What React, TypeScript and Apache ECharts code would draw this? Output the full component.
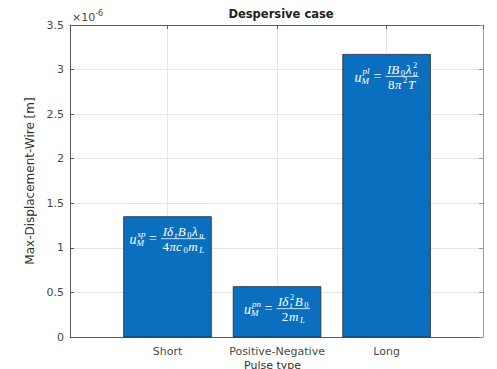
import React, { useEffect, useRef } from "react";
import * as echarts from "echarts";

// ---- data ----
const categories = ["Short", "Positive-Negative", "Long"];
const positions = [1, 2, 3];
const values = [1.35e-6, 0.565e-6, 3.17e-6];
const yMin = 0;
const yMax = 3.5e-6;
const yStep = 0.5e-6;
const xMin = 0.11;
const xMax = 3.88;
const titleText = "Despersive case";
const yName = "Max-Displacement-Wire [m]";
const xName = "Pulse type";

// formula content per bar
type Tok = { s: string; m: "n" | "b" | "p" | "pb"; b?: string; up?: boolean };
const lhsSup = ["sp", "pn", "pl"];
const numerators: Tok[][] = [
  [{ s: "Iδ", m: "n" }, { s: "t", m: "b" }, { s: "B", m: "n" }, { s: "0", m: "b", up: true }, { s: "λ", m: "n" }, { s: "u", m: "b" }],
  [{ s: "Iδ", m: "n" }, { s: "2", b: "t", m: "pb", up: true }, { s: "B", m: "n" }, { s: "0", m: "b", up: true }],
  [{ s: "IB", m: "n" }, { s: "0", m: "b", up: true }, { s: "λ", m: "n" }, { s: "2", b: "u", m: "pb", up: true }],
];
const denominators: Tok[][] = [
  [{ s: "4", m: "n", up: true }, { s: "πc", m: "n" }, { s: "0", m: "b", up: true }, { s: "m", m: "n" }, { s: "L", m: "b" }],
  [{ s: "2", m: "n", up: true }, { s: "m", m: "n" }, { s: "L", m: "b" }],
  [{ s: "8", m: "n", up: true }, { s: "π", m: "n" }, { s: "2", m: "p", up: true }, { s: "T", m: "n" }],
];

const SERIF = "Liberation Serif";
const SANS = "DejaVu Sans";

let mctx: CanvasRenderingContext2D | null = null;
function tw(s: string, size: number, italic: boolean) {
  if (!mctx) mctx = document.createElement("canvas").getContext("2d");
  if (!mctx) return s.length * size * 0.5;
  mctx.font = `${italic ? "italic " : ""}${size}px "${SERIF}"`;
  return mctx.measureText(s).width;
}

const MAIN = 13;
const SCR = 8.5;
const SP = 0.6;

function txt(s: string, x: number, y: number, size: number, italic: boolean, align = "left") {
  return {
    type: "text",
    style: {
      text: s,
      x,
      y,
      fill: "#ffffff",
      fontSize: size,
      fontFamily: SERIF,
      fontStyle: italic ? "italic" : "normal",
      align,
      verticalAlign: "middle",
    },
    silent: true,
  };
}

function layoutTokens(toks: Tok[]) {
  let x = 0;
  const items: any[] = [];
  toks.forEach((t) => {
    const it = !t.up;
    if (t.m === "n") {
      items.push({ s: t.s, x, dy: 0, size: MAIN, it });
      x += tw(t.s, MAIN, it) + (it ? 1 : 0) + SP;
    } else if (t.m === "b") {
      items.push({ s: t.s, x, dy: 3.5, size: SCR, it });
      x += tw(t.s, SCR, it) + SP;
    } else if (t.m === "p") {
      items.push({ s: t.s, x, dy: -4, size: SCR, it });
      x += tw(t.s, SCR, it) + SP;
    } else {
      items.push({ s: t.s, x, dy: -4.5, size: SCR, it: false });
      items.push({ s: t.b || "", x, dy: 3.5, size: SCR, it: true });
      x += Math.max(tw(t.s, SCR, false), tw(t.b || "", SCR, true)) + SP;
    }
  });
  return { items, width: x - SP };
}

function formulaChildren(idx: number, cx: number, cy: number) {
  const uw = tw("u", 14, true) + 0.5;
  const sw = Math.max(tw(lhsSup[idx], 9, true), tw("M", 9, true));
  const ew = tw("=", 14, false);
  const num = layoutTokens(numerators[idx]);
  const den = layoutTokens(denominators[idx]);
  const F = Math.max(num.width, den.width) + 3;
  const gap = 4;
  const T = uw + sw + gap + ew + gap + F;
  const x0 = cx - T / 2;
  const ch: any[] = [];
  ch.push(txt("u", x0, cy + 1, 14, true));
  ch.push(txt(lhsSup[idx], x0 + uw + 0.5, cy - 5, 9, true));
  ch.push(txt("M", x0 + uw - 0.5, cy + 4.5, 9, true));
  const ex = x0 + uw + sw + gap;
  ch.push(txt("=", ex, cy, 14, false));
  const fx = ex + ew + gap;
  ch.push({
    type: "line",
    shape: { x1: fx, y1: cy, x2: fx + F, y2: cy },
    style: { stroke: "#ffffff", lineWidth: 0.8 },
    silent: true,
  });
  const nx = fx + (F - num.width) / 2;
  num.items.forEach((it: any) => ch.push(txt(it.s, nx + it.x, cy - 7 + it.dy, it.size, it.it)));
  const dx = fx + (F - den.width) / 2;
  den.items.forEach((it: any) => ch.push(txt(it.s, dx + it.x, cy + 8 + it.dy, it.size, it.it)));
  return ch;
}

export default function App() {
  const ref = useRef<HTMLDivElement>(null);
  useEffect(() => {
    document.body.style.margin = "0";
    if (!ref.current) return;
    const chart = echarts.init(ref.current, undefined, { renderer: "svg" });
    const axisLineColor = "#5a5a5a";
    const labelColor = "#4a4a4a";
    const option: any = {
      animation: false,
      backgroundColor: "#ffffff",
      title: {
        text: titleText,
        left: 276,
        top: 3,
        textAlign: "center",
        textStyle: { fontSize: 11.5, fontWeight: "bold", color: "#222", fontFamily: SANS },
      },
      grid: { left: 70, right: 14, top: 25, bottom: 32 },
      xAxis: [
        {
          type: "value",
          min: xMin,
          max: xMax,
          splitNumber: 4,
          axisLine: { show: true, lineStyle: { color: axisLineColor, width: 1 } },
          axisTick: { show: true, inside: true, length: 4, lineStyle: { color: axisLineColor } },
          splitLine: { show: true, lineStyle: { color: "#e6e6e6", width: 1 } },
          axisLabel: {
            color: labelColor,
            fontSize: 11,
            fontFamily: SANS,
            margin: 9,
            showMinLabel: false,
            showMaxLabel: false,
            formatter: (v: number) => {
              const i = positions.findIndex((p) => Math.abs(p - v) < 1e-6);
              return i >= 0 ? categories[i] : "";
            },
          },
          name: "",
        },
        {
          type: "value",
          position: "top",
          min: xMin,
          max: xMax,
          splitNumber: 4,
          axisLine: { show: true, onZero: false, lineStyle: { color: axisLineColor, width: 1 } },
          axisTick: { show: true, inside: true, length: 4, lineStyle: { color: axisLineColor } },
          splitLine: { show: false },
          axisLabel: { show: false },
        },
      ],
      yAxis: [
        {
          type: "value",
          min: yMin,
          max: yMax,
          interval: yStep,
          axisLine: { show: true, lineStyle: { color: axisLineColor, width: 1 } },
          axisTick: { show: true, inside: true, length: 4, lineStyle: { color: axisLineColor } },
          splitLine: { show: true, lineStyle: { color: "#e6e6e6", width: 1 } },
          axisLabel: {
            color: labelColor,
            fontSize: 11,
            fontFamily: SANS,
            margin: 6,
            formatter: (v: number) => String(+(v * 1e6).toFixed(1)),
          },
          name: yName,
          nameLocation: "middle",
          nameGap: 30,
          nameTextStyle: { color: "#333", fontSize: 12, fontFamily: SANS },
        },
        {
          type: "value",
          position: "right",
          min: yMin,
          max: yMax,
          interval: yStep,
          axisLine: { show: true, onZero: false, lineStyle: { color: "#9a9a9a", width: 1 } },
          axisTick: { show: true, inside: true, length: 4, lineStyle: { color: "#9a9a9a" } },
          splitLine: { show: false },
          axisLabel: { show: false },
        },
      ],
      graphic: [
        {
          type: "text",
          left: 72,
          top: 9,
          style: {
            text: "{a|×10}{b|-6}",
            rich: {
              a: { fontSize: 11, fontFamily: SANS, fill: labelColor, color: labelColor, verticalAlign: "bottom", lineHeight: 14 },
              b: { fontSize: 8, fontFamily: SANS, fill: labelColor, color: labelColor, verticalAlign: "top", lineHeight: 14 },
            },
          },
        },
        {
          type: "text",
          left: 244,
          top: 360,
          style: { text: xName, fontSize: 11, fontFamily: SANS, fill: "#333" },
        },
      ],
      series: [
        {
          type: "custom",
          xAxisIndex: 0,
          yAxisIndex: 0,
          data: positions.map((p, i) => [p, values[i], i]),
          encode: { x: 0, y: 1 },
          renderItem: (params: any, api: any) => {
            const x = api.value(0);
            const y = api.value(1);
            const idx = api.value(2);
            const tl = api.coord([x - 0.4, y]);
            const br = api.coord([x + 0.4, 0]);
            const w = br[0] - tl[0];
            const h = br[1] - tl[1];
            const children: any[] = [
              {
                type: "rect",
                shape: { x: tl[0], y: tl[1], width: w, height: h },
                style: { fill: "#0a6fbf", stroke: "#1e2a3a", lineWidth: 0.8 },
              },
              ...formulaChildren(idx, tl[0] + w / 2, tl[1] + 22),
            ];
            return { type: "group", children };
          },
        },
      ],
    };
    chart.setOption(option);
    return () => chart.dispose();
  }, []);
  return <div ref={ref} style={{ width: 497, height: 369, position: "absolute", left: 0, top: 0 }} />;
}
